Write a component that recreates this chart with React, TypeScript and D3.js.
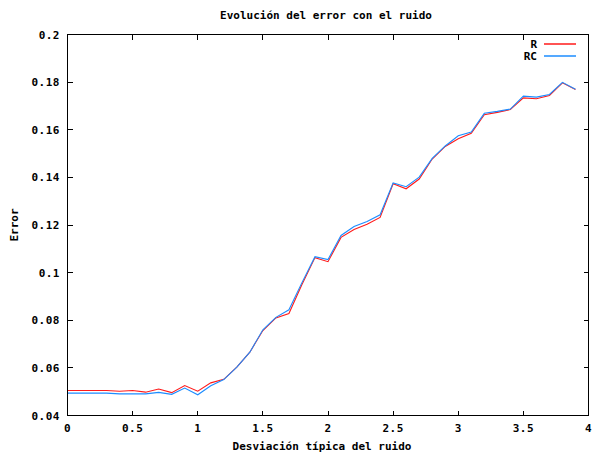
import React from "react";
import * as d3 from "d3";

const noise = [0, 0.1, 0.2, 0.3, 0.4, 0.5, 0.6, 0.7, 0.8, 0.9, 1.0, 1.1, 1.2, 1.3, 1.4, 1.5, 1.6, 1.7, 1.8, 1.9,
  2.0, 2.1, 2.2, 2.3, 2.4, 2.5, 2.6, 2.7, 2.8, 2.9, 3.0, 3.1, 3.2, 3.3, 3.4, 3.5, 3.6, 3.7, 3.8, 3.9];

const errR = [0.0505, 0.0505, 0.0505, 0.0505, 0.0502, 0.0505, 0.0498, 0.0511, 0.0496, 0.0526,
  0.0502, 0.0537, 0.0552, 0.0603, 0.0666, 0.0757, 0.081, 0.0828, 0.095, 0.1063,
  0.1046, 0.1148, 0.1181, 0.1203, 0.1232, 0.1373, 0.1352, 0.1393, 0.1477, 0.153,
  0.1562, 0.1585, 0.1663, 0.1673, 0.1685, 0.1734, 0.173, 0.1744, 0.1797, 0.1769];

const errRC = [0.0494, 0.0494, 0.0494, 0.0494, 0.0491, 0.0491, 0.0491, 0.0497, 0.0489, 0.0515,
  0.0487, 0.0525, 0.0551, 0.0603, 0.0666, 0.076, 0.0812, 0.0844, 0.0958, 0.1067,
  0.1055, 0.1156, 0.1194, 0.1215, 0.1243, 0.1377, 0.1361, 0.1401, 0.148, 0.1532,
  0.1575, 0.159, 0.1669, 0.1677, 0.1687, 0.1741, 0.1737, 0.1748, 0.1799, 0.177];

const xTicks = [0, 0.5, 1, 1.5, 2, 2.5, 3, 3.5, 4];
const yTicks = [0.04, 0.06, 0.08, 0.1, 0.12, 0.14, 0.16, 0.18, 0.2];

const series = [
  { name: "R", values: errR, color: "#ff1a1a" },
  { name: "RC", values: errRC, color: "#1c8cff" },
];

const font = "'DejaVu Sans Mono', monospace";

export default function App() {
  const width = 595;
  const height = 454;
  const left = 67.5, right = 588.5, top = 34.5, bottom = 415.5;

  const x = d3.scaleLinear().domain([0, 4]).range([left, right]);
  const y = d3.scaleLinear().domain([0.04, 0.2]).range([bottom, top]);

  const line = d3.line<number>()
    .x((d, i) => x(noise[i]))
    .y(d => y(d));

  const tickLen = 5;

  return (
    <svg width={width} height={height}
      style={{ position: "absolute", left: 0, top: 0, background: "#fff" }}
      fontFamily={font} fontWeight="bold" fontSize={11}>
      <text x={326} y={19} textAnchor="middle">Evolución del error con el ruido</text>

      {/* ticks */}
      <g stroke="#000" strokeWidth={1} shapeRendering="crispEdges">
        {xTicks.slice(1, -1).map(t => (
          <g key={"x" + t}>
            <line x1={x(t)} x2={x(t)} y1={bottom} y2={bottom - tickLen} />
            <line x1={x(t)} x2={x(t)} y1={top} y2={top + tickLen} />
          </g>
        ))}
        {yTicks.slice(1, -1).map(t => (
          <g key={"y" + t}>
            <line x1={left} x2={left + tickLen} y1={y(t)} y2={y(t)} />
            <line x1={right} x2={right - tickLen} y1={y(t)} y2={y(t)} />
          </g>
        ))}
      </g>

      {xTicks.map(t => (
        <text key={"xl" + t} x={x(t)} y={432} textAnchor="middle" letterSpacing={0.5}>
          {d3.format("")(t)}
        </text>
      ))}
      {yTicks.map(t => (
        <text key={"yl" + t} x={60} y={y(t) + 4} textAnchor="end" letterSpacing={0.5}>
          {d3.format("")(+t.toFixed(2))}
        </text>
      ))}

      <text x={322} y={450} textAnchor="middle">Desviación típica del ruido</text>
      <text transform="translate(18,225) rotate(-90)" textAnchor="middle">Error</text>

      {series.map(s => (
        <path key={s.name} d={line(s.values) ?? ""} fill="none" stroke={s.color} strokeWidth={1.1} />
      ))}

      {/* legend */}
      {series.map((s, i) => (
        <g key={"lg" + s.name}>
          <text x={537} y={48 + i * 12} textAnchor="end">{s.name}</text>
          <line x1={544} x2={576} y1={44 + i * 12} y2={44 + i * 12} stroke={s.color} strokeWidth={1.5} />
        </g>
      ))}

      <rect x={left} y={top} width={right - left} height={bottom - top}
        fill="none" stroke="#000" strokeWidth={1} shapeRendering="crispEdges" />
    </svg>
  );
}
